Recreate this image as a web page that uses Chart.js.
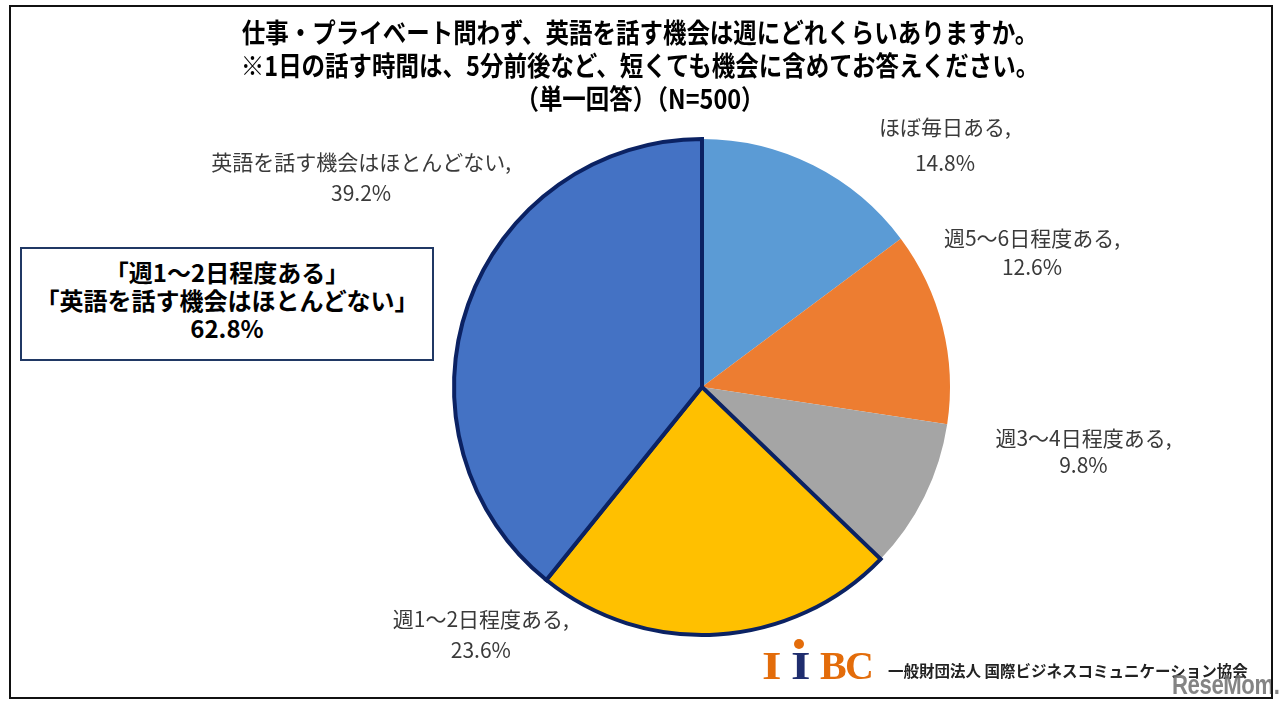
<!DOCTYPE html>
<html lang="ja">
<head>
<meta charset="utf-8">
<title>英語を話す機会</title>
<script src="https://cdn.jsdelivr.net/npm/chart.js@4/dist/chart.umd.min.js"></script>
<style>
  html, body { margin: 0; padding: 0; background: #fff; }
  #wrap {
    position: relative; width: 1280px; height: 706px; overflow: hidden;
    font-family: "Noto Sans CJK JP", "Noto Sans", sans-serif; background: #fff;
  }
  #frame {
    position: absolute; left: 9px; top: 5px; width: 1264px; height: 694px;
    border: 2.5px solid #111; box-sizing: border-box;
  }
  #pie { position: absolute; left: 0; top: 0; }
  .tline {
    position: absolute; left: 0; width: 1280px; text-align: center;
    font-weight: bold; font-size: 27px; line-height: 33px; color: #000;
    transform: scaleX(0.87); transform-origin: 640px 50%; white-space: nowrap;
  }
  #callout {
    position: absolute; left: 20px; top: 247px; width: 414px; height: 114px;
    box-sizing: border-box; border: 2px solid #203864; background: #fff;
    text-align: center; font-weight: bold; font-size: 24px; line-height: 28px;
    padding-top: 9px; color: #000; white-space: nowrap;
  }
  .logo {
    position: absolute; font-family: "Liberation Serif", "DejaVu Serif", serif;
    font-weight: bold; font-size: 40px; line-height: 40px;
    transform-origin: 0 50%;
  }
  #dot { position: absolute; left: 794px; top: 639px; width: 10px; height: 10px; border-radius: 50%; background: #E36C0A; }
  #org {
    position: absolute; left: 888px; top: 659px; font-size: 15.5px; line-height: 22px;
    font-weight: bold; color: #222; white-space: nowrap;
  }
  #mark {
    position: absolute; left: 1172px; top: 671px; font-family: "Liberation Sans Narrow", "Liberation Sans", sans-serif;
    font-weight: bold; font-size: 27px; line-height: 28px; color: rgba(110,110,110,0.85); white-space: nowrap;
    transform: scaleX(0.82); transform-origin: 0 50%; letter-spacing: -0.5px;
  }
</style>
</head>
<body>
<div id="wrap">
  <canvas id="pie" width="1280" height="706"></canvas>
  <div class="tline" style="top:15px">仕事・プライベート問わず、英語を話す機会は週にどれくらいありますか。</div>
  <div class="tline" style="top:48px">※1日の話す時間は、5分前後など、短くても機会に含めてお答えください。</div>
  <div class="tline" style="top:81px">（単一回答）（N=500）</div>
  <div id="callout">「週1～2日程度ある」<br>「英語を話す機会はほとんどない」<br>62.8%</div>
  <span class="logo" style="left:762px;top:646px;color:#E36C0A;transform:scaleX(1.25)">I</span>
  <span class="logo" style="left:791px;top:646px;color:#1F2D6E;transform:scaleX(1.25)">I</span>
  <div id="dot"></div>
  <span class="logo" style="left:820px;top:646px;color:#E36C0A">B</span>
  <span class="logo" style="left:845px;top:646px;color:#E36C0A">C</span>
  <div id="org">一般財団法人 国際ビジネスコミュニケーション協会</div>
  <div id="mark">ReseMom.</div>
  <div id="frame"></div>
</div>
<script>
// Answer categories (clockwise from 12 o'clock) and their shares in percent
const categories = ['ほぼ毎日ある', '週5〜6日程度ある', '週3〜4日程度ある', '週1〜2日程度ある', '英語を話す機会はほとんどない'];
const shares = [14.8, 12.6, 9.8, 23.6, 39.2];
const valueLabels = ['14.8%', '12.6%', '9.8%', '23.6%', '39.2%'];

// Styling
const sliceColors = ['#5B9BD5', '#ED7D31', '#A5A5A5', '#FFC000', '#4472C4'];
const outlined = [false, false, false, true, true];
const NAVY = '#0B2263';

// Where each two-line label sits: angle clockwise from 12 o'clock (degrees),
// distance from the pie centre in outer radii, and spacing between its two lines.
const labelPlace = [
  { deg: 45.1,  dist: 1.383, gap: 36 },
  { deg: 67.8,  dist: 1.437, gap: 29 },
  { deg: 99.6,  dist: 1.560, gap: 27 },
  { deg: 221.8, dist: 1.338, gap: 31 },
  { deg: 301.6, dist: 1.614, gap: 31 }
];

const sliceLabels = {
  id: 'sliceLabels',
  afterDatasetsDraw(chart) {
    const ctx = chart.ctx;
    const arcs = chart.getDatasetMeta(0).data;
    ctx.save();
    ctx.font = '21px "Noto Sans CJK JP", "Noto Sans", sans-serif';
    ctx.fillStyle = '#3a3a3a';
    ctx.textAlign = 'center';
    ctx.textBaseline = 'middle';
    arcs.forEach((arc, i) => {
      const p = labelPlace[i];
      const a = p.deg * Math.PI / 180;
      const r = arc.outerRadius * p.dist;
      const cx = arc.x + r * Math.sin(a);
      const cy = arc.y - r * Math.cos(a);
      ctx.fillText(categories[i] + ',', cx, cy - p.gap / 2);
      ctx.fillText(valueLabels[i], cx, cy + p.gap / 2);
    });
    ctx.restore();
  }
};

new Chart(document.getElementById('pie'), {
  type: 'pie',
  data: {
    labels: categories,
    datasets: [{
      data: shares,
      backgroundColor: sliceColors,
      borderColor: outlined.map(o => o ? NAVY : 'rgba(0,0,0,0)'),
      borderWidth: outlined.map(o => o ? 4 : 0),
      borderAlign: 'center',
      borderJoinStyle: 'miter'
    }]
  },
  options: {
    responsive: false,
    animation: false,
    events: [],
    layout: { padding: { left: 452, top: 137, right: 328, bottom: 69 } },
    plugins: {
      legend: { display: false },
      tooltip: { enabled: false },
      title: { display: false }
    }
  },
  plugins: [sliceLabels]
});
</script>
</body>
</html>
